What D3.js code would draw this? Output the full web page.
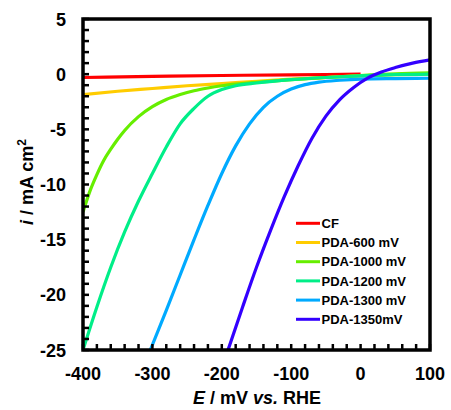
<!DOCTYPE html>
<html><head><meta charset="utf-8">
<script src="https://cdn.jsdelivr.net/npm/d3@7"></script>
<style>body{margin:0;background:#fff}svg{display:block}text{font-family:"Liberation Sans",Arial,sans-serif;font-weight:bold}</style>
</head><body><svg id="c" width="451" height="410"></svg>
<script>
const seriesNames = ["CF","PDA-600 mV","PDA-1000 mV","PDA-1200 mV","PDA-1300 mV","PDA-1350mV"];
const seriesColors = ["#ff0000","#ffcc00","#66ee00","#00ee88","#00aaff","#3300ff"];
const cfE = [-400,-300,-200,-100,0];
const cfI = [-0.3,-0.2,-0.12,-0.06,0.0];
const p600E = [-400,-350,-300,-250,-200,-150,-100,-50,0,50,100];
const p600I = [-1.85,-1.55,-1.3,-1.05,-0.85,-0.65,-0.45,-0.3,-0.15,-0.05,0.0];
const p1000E = [-400,-390,-380,-370,-360,-350,-340,-320,-300,-280,-260,-240,-220,-200,-150,-100,-50,0,50,100];
const p1000I = [-12.5,-10.6,-9.1,-7.8,-6.8,-5.9,-5.1,-3.85,-2.95,-2.3,-1.85,-1.5,-1.25,-1.05,-0.75,-0.5,-0.3,-0.12,0.03,0.12];
const p1200E = [-400,-380,-360,-340,-320,-300,-280,-260,-240,-220,-200,-180,-150,-100,-50,0,50,100];
const p1200I = [-25,-21.1,-17.5,-14.3,-11.5,-9.0,-6.6,-4.5,-3.1,-2.0,-1.4,-1.05,-0.8,-0.5,-0.3,-0.15,-0.05,0.0];
const p1300E = [-303,-280,-260,-240,-220,-200,-180,-160,-140,-120,-100,-80,-60,-30,0,50,100];
const p1300I = [-25,-21.4,-18.2,-15.0,-11.9,-9.0,-6.5,-4.5,-3.0,-2.0,-1.35,-0.95,-0.72,-0.55,-0.45,-0.4,-0.37];
const p1350E = [-191,-170,-150,-130,-110,-90,-70,-50,-30,-10,10,30,50,75,100];
const p1350I = [-25,-21.1,-17.5,-14.2,-11.1,-8.3,-5.8,-3.8,-2.3,-1.2,-0.35,0.2,0.6,1.0,1.3];
const xTicks = [-400,-300,-200,-100,0,100];
const yTicks = [5,0,-5,-10,-15,-20,-25];

const seriesE = [cfE,p600E,p1000E,p1200E,p1300E,p1350E];
const seriesI = [cfI,p600I,p1000I,p1200I,p1300I,p1350I];

const svg = d3.select("#c");
const L=83, R=430, T=19, B=350;
const x = d3.scaleLinear().domain([-400,100]).range([L,R]);
const y = d3.scaleLinear().domain([-25,5]).range([B,T]);

const clip = svg.append("defs").append("clipPath").attr("id","pc");
clip.append("rect").attr("x",L).attr("y",T).attr("width",R-L).attr("height",B-T);

const line = d3.line().x(d=>x(d[0])).y(d=>y(d[1])).curve(d3.curveMonotoneX);
const g = svg.append("g").attr("clip-path","url(#pc)");
seriesE.forEach((E,k)=>{
  const pts = E.map((e,j)=>[e,seriesI[k][j]]);
  g.append("path").attr("d",line(pts)).attr("fill","none")
   .attr("stroke",seriesColors[k]).attr("stroke-width",3.2).attr("stroke-linecap","butt");
});

// minor ticks (inside)
const xMinor = d3.range(-400,101,20);
const yMinor = d3.range(-25,6,1);
svg.append("g").selectAll("line").data(xMinor).join("line")
  .attr("x1",d=>x(d)).attr("x2",d=>x(d)).attr("y1",B).attr("y2",B-6)
  .attr("stroke","#000").attr("stroke-width",2.5);
svg.append("g").selectAll("line").data(yMinor).join("line")
  .attr("x1",L).attr("x2",L+6).attr("y1",d=>y(d)).attr("y2",d=>y(d))
  .attr("stroke","#000").attr("stroke-width",2.5);

// frame
svg.append("rect").attr("x",L).attr("y",T).attr("width",R-L).attr("height",B-T)
  .attr("fill","none").attr("stroke","#000").attr("stroke-width",3.5);

// tick labels
svg.append("g").selectAll("text").data(xTicks).join("text")
  .attr("x",d=>x(d)).attr("y",380).attr("text-anchor","middle").attr("font-size",18).text(d=>d);
svg.append("g").selectAll("text").data(yTicks).join("text")
  .attr("x",66).attr("y",d=>y(d)+6.5).attr("text-anchor","end").attr("font-size",18).text(d=>d);

// axis titles
const xt = svg.append("text").attr("x",257).attr("y",404).attr("text-anchor","middle").attr("font-size",18);
xt.append("tspan").attr("font-style","italic").text("E");
xt.append("tspan").text(" / mV ");
xt.append("tspan").attr("font-style","italic").text("vs.");
xt.append("tspan").text(" RHE");

const yt = svg.append("text").attr("transform","translate(33,182) rotate(-90)").attr("text-anchor","middle").attr("font-size",18);
yt.append("tspan").attr("font-style","italic").text("i");
yt.append("tspan").text(" / mA cm");
yt.append("tspan").attr("font-size",12).attr("dy",-7).text("2");

// legend
const lg = svg.append("g");
seriesNames.forEach((n,k)=>{
  const yy = 223.3 + k*19.2;
  lg.append("line").attr("x1",296).attr("x2",320).attr("y1",yy).attr("y2",yy)
    .attr("stroke",seriesColors[k]).attr("stroke-width",3);
  lg.append("text").attr("x",321.5).attr("y",yy+4.6).attr("font-size",13).text(n);
});
</script></body></html>
